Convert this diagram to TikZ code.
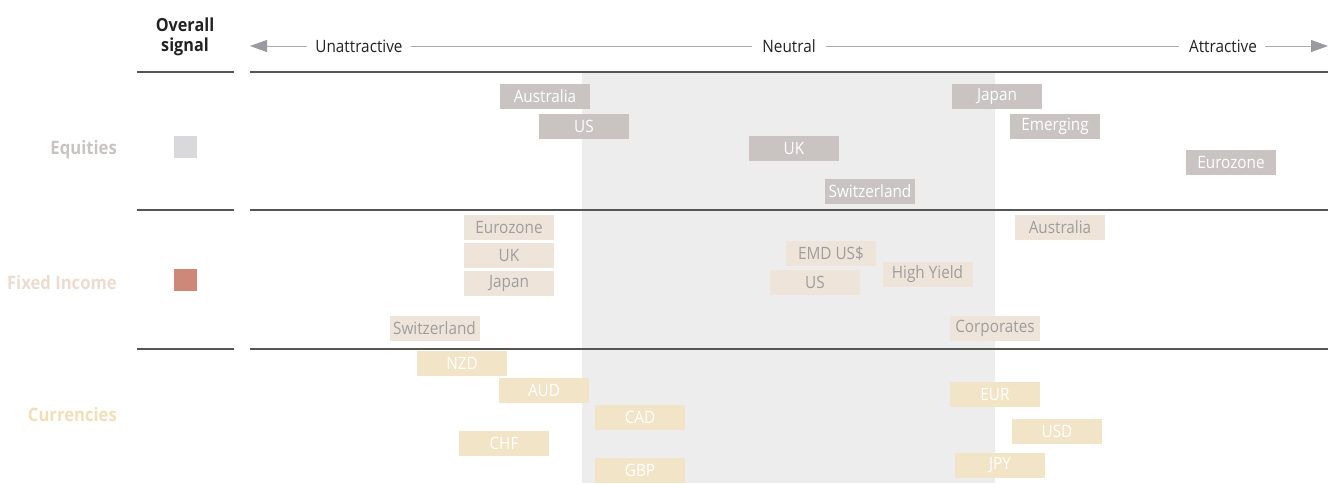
\documentclass[tikz,border=0pt]{standalone}
\usepackage{fontspec}
\setmainfont[FakeStretch=0.9]{Open Sans}
\usetikzlibrary{arrows.meta}
\definecolor{band}{HTML}{EDEDED}
\definecolor{eqbox}{HTML}{C9C4C1}
\definecolor{fibox}{HTML}{EEE4DA}
\definecolor{fitext}{HTML}{9E9E9E}
\definecolor{cubox}{HTML}{F2E4C6}
\definecolor{eqlabel}{HTML}{C9C4C1}
\definecolor{filabel}{HTML}{ECDCD0}
\definecolor{culabel}{HTML}{F1DFB8}
\definecolor{sigeq}{HTML}{D9D9DB}
\definecolor{sigfi}{HTML}{CD887A}
\definecolor{rulec}{HTML}{555555}
\definecolor{axisc}{HTML}{ABABAB}
\definecolor{tipc}{HTML}{9B9B9F}
\definecolor{headc}{HTML}{222222}
\tikzset{
  x=1pt, y=-1pt,
  every node/.style={font=\fontsize{17}{20}\selectfont},
  box/.style={rectangle, minimum width=90pt, minimum height=25pt, inner sep=0pt},
  eq/.style={box, fill=eqbox, text=white},
  fi/.style={box, fill=fibox, text=fitext},
  cu/.style={box, fill=cubox, text=white},
  rowlabel/.style={anchor=east, inner sep=0pt, font=\fontsize{18.5}{20}\selectfont\bfseries},
  sig/.style={rectangle, minimum width=23pt, minimum height=22pt, inner sep=0pt},
  sep/.style={draw=rulec, line width=1.2pt},
  axisline/.style={draw=axisc, line width=1pt},
  axisarrow/.style={axisline, -{Triangle[length=17pt,width=12pt,color=tipc]}},
  axislabel/.style={text=headc, inner sep=0pt},
}
\begin{document}
\begin{tikzpicture}
\useasboundingbox (0,0) rectangle (1339,483);
\fill[band] (582,72) rectangle (995,483);

% separators
\coordinate (s1a) at (137,72);  \coordinate (s1b) at (234,72);
\coordinate (s2a) at (137,210); \coordinate (s2b) at (234,210);
\coordinate (s3a) at (137,349); \coordinate (s3b) at (234,349);
\coordinate (l1a) at (250,72);  \coordinate (l1b) at (1328,72);
\coordinate (l2a) at (250,210); \coordinate (l2b) at (1328,210);
\coordinate (l3a) at (250,349); \coordinate (l3b) at (1328,349);
\draw[sep] (s1a) -- (s1b); \draw[sep] (s2a) -- (s2b); \draw[sep] (s3a) -- (s3b);
\draw[sep] (l1a) -- (l1b); \draw[sep] (l2a) -- (l2b); \draw[sep] (l3a) -- (l3b);

% header
\node[text=headc, font=\fontsize{18}{20}\selectfont\bfseries, align=center, inner sep=0pt] (overall) at (185,36.5) {Overall\\signal};
\node[axislabel] (unatt) at (359,46) {Unattractive};
\node[axislabel] (neutral) at (789,46) {Neutral};
\node[axislabel] (attr) at (1223,46) {Attractive};
\coordinate (leftend) at (250,46);
\coordinate (rightend) at (1328,46);
\draw[axisarrow] ([xshift=-8pt]unatt.west) -- (leftend);
\draw[axisline] ([xshift=8pt]unatt.east) -- ([xshift=-10pt]neutral.west);
\draw[axisline] ([xshift=10pt]neutral.east) -- ([xshift=-10pt]attr.west);
\draw[axisarrow] ([xshift=8pt]attr.east) -- (rightend);

% row labels
\node[rowlabel, text=eqlabel] (leq) at (117,150) {Equities};
\node[rowlabel, text=filabel] (lfi) at (117,282.5) {Fixed Income};
\node[rowlabel, text=culabel] (lcu) at (117,415) {Currencies};
\node[sig, fill=sigeq] (sigeq) at (185.5,147) {};
\node[sig, fill=sigfi] (sigfi) at (185.5,280) {};

% equities
\node[eq] (eAus) at (545,96.5) {Australia};
\node[eq] (eUS) at (584,126.5) {US};
\node[eq] (eUK) at (794,148.5) {UK};
\node[eq] (eSwi) at (870,191.5) {Switzerland};
\node[eq] (eJap) at (997,96.5) {Japan};
\node[eq] (eEme) at (1055,126.5) {Emerging};
\node[eq] (eEur) at (1231,162.5) {Eurozone};

% fixed income
\node[fi] (fEur) at (509,227.5) {Eurozone};
\node[fi] (fUK) at (509,255.5) {UK};
\node[fi] (fJap) at (509,283.5) {Japan};
\node[fi] (fSwi) at (434.5,328.5) {Switzerland};
\node[fi] (fAus) at (1060,227.5) {Australia};
\node[fi] (fEMD) at (831,253.5) {EMD US\$};
\node[fi] (fUS) at (815,282.5) {US};
\node[fi] (fHY) at (927.5,274.5) {High Yield};
\node[fi] (fCor) at (995,328.5) {Corporates};

% currencies
\node[cu] (cNZD) at (462,363) {NZD};
\node[cu] (cAUD) at (544,390) {AUD};
\node[cu] (cCAD) at (640,417.5) {CAD};
\node[cu] (cCHF) at (504,443.5) {CHF};
\node[cu] (cGBP) at (640,470.5) {GBP};
\node[cu] (cEUR) at (995,394.5) {EUR};
\node[cu] (cUSD) at (1057,431.5) {USD};
\node[cu] (cJPY) at (1000,465.5) {JPY};
\end{tikzpicture}
\end{document}
